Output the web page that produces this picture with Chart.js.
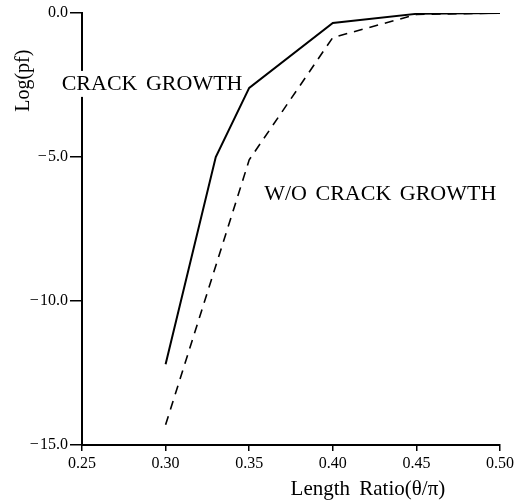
<!DOCTYPE html>
<html>
<head>
<meta charset="utf-8">
<script src="https://cdn.jsdelivr.net/npm/chart.js@4"></script>
<style>
  html, body { margin: 0; padding: 0; background: #fff; }
  canvas { display: block; }
</style>
</head>
<body>
<canvas id="c" width="517" height="504"></canvas>
<script>
// ---- data ----
const crackX = [0.30, 0.33, 0.35, 0.40, 0.45, 0.50];
const crackY = [-12.2, -5.0, -2.6, -0.35, -0.03, 0.0];
const noCrackX = [0.30, 0.35, 0.40, 0.45, 0.50];
const noCrackY = [-14.3, -5.1, -0.85, -0.05, 0.0];
const xTicks = [0.25, 0.30, 0.35, 0.40, 0.45, 0.50];
const xTickLabels = ['0.25', '0.30', '0.35', '0.40', '0.45', '0.50'];
const yTicks = [0, -5, -10, -15];
const yTickLabels = ['0.0', '\u2212\u200A5.0', '\u2212\u200A10.0', '\u2212\u200A15.0'];
const xTitle = 'Length Ratio(\u03B8/\u03C0)';
const yTitle = 'Log(pf)';
const seriesNames = ['CRACK GROWTH', 'W/O CRACK GROWTH'];

const FONT = '"Liberation Serif", "DejaVu Serif", serif';

const textPlugin = {
  id: 'texts',
  afterDraw(chart) {
    const ctx = chart.ctx;
    const xs = chart.scales.x, ys = chart.scales.y;
    ctx.save();
    ctx.fillStyle = '#000';
    ctx.font = '22px ' + FONT;
    if ('wordSpacing' in ctx) ctx.wordSpacing = '3px';
    // CRACK GROWTH label (right-aligned, ending near the solid line's bend)
    let px = xs.getPixelForValue(0.346), py = ys.getPixelForValue(-2.67);
    let w = ctx.measureText(seriesNames[0]).width;
    ctx.fillStyle = '#fff';
    ctx.fillRect(px - w - 3, py - 19, w + 4, 26);
    ctx.fillStyle = '#000';
    ctx.textAlign = 'right';
    ctx.textBaseline = 'alphabetic';
    ctx.fillText(seriesNames[0], px, py);
    // W/O CRACK GROWTH label
    px = xs.getPixelForValue(0.359); py = ys.getPixelForValue(-6.5);
    ctx.textAlign = 'left';
    ctx.fillText(seriesNames[1], px, py);
    // axis titles
    ctx.font = '21px ' + FONT;
    if ('wordSpacing' in ctx) ctx.wordSpacing = '4px';
    ctx.textAlign = 'center';
    ctx.textBaseline = 'middle';
    ctx.fillText(xTitle, xs.getPixelForValue(0.421), 489);
    if ('wordSpacing' in ctx) ctx.wordSpacing = '0px';
    ctx.font = '20px ' + FONT;
    ctx.translate(24, ys.getPixelForValue(-2.35));
    ctx.rotate(-Math.PI / 2);
    ctx.fillText(yTitle, 0, 0);
    ctx.restore();
  }
};

new Chart(document.getElementById('c'), {
  type: 'line',
  data: {
    datasets: [
      {
        label: seriesNames[0],
        data: crackX.map((x, i) => ({ x, y: crackY[i] })),
        borderColor: '#000',
        borderWidth: 2,
        pointRadius: 0,
        tension: 0,
        fill: false
      },
      {
        label: seriesNames[1],
        data: noCrackX.map((x, i) => ({ x, y: noCrackY[i] })),
        borderColor: '#000',
        borderWidth: 1.6,
        borderDash: [9, 7],
        pointRadius: 0,
        tension: 0,
        fill: false
      }
    ]
  },
  options: {
    responsive: false,
    animation: false,
    devicePixelRatio: 1,
    layout: { padding: { left: 0, top: 13, right: 16, bottom: 0 } },
    plugins: { legend: { display: false }, tooltip: { enabled: false } },
    scales: {
      x: {
        type: 'linear',
        min: 0.25,
        max: 0.50,
        afterBuildTicks(scale) { scale.ticks = xTicks.map(v => ({ value: v })); },
        afterFit(scale) { scale.height = 59; },
        ticks: {
          color: '#000',
          font: { family: FONT, size: 16 },
          padding: 3,
          maxRotation: 0,
          callback(v) { const i = xTicks.findIndex(t => Math.abs(t - v) < 1e-6); return i >= 0 ? xTickLabels[i] : ''; }
        },
        grid: { display: true, drawOnChartArea: false, color: '#000', tickLength: 6, lineWidth: 1.5 },
        border: { display: true, color: '#000', width: 2 }
      },
      y: {
        type: 'linear',
        min: -15,
        max: 0,
        afterBuildTicks(scale) { scale.ticks = yTicks.map(v => ({ value: v })); },
        afterFit(scale) { scale.width = 82; },
        ticks: {
          color: '#000',
          font: { family: FONT, size: 16 },
          padding: 2,
          callback(v) { const i = yTicks.findIndex(t => Math.abs(t - v) < 1e-6); return i >= 0 ? yTickLabels[i] : ''; }
        },
        grid: { display: true, drawOnChartArea: false, color: '#000', tickLength: 12, lineWidth: 1.5 },
        border: { display: true, color: '#000', width: 2 }
      }
    }
  },
  plugins: [textPlugin]
});
</script>
</body>
</html>
